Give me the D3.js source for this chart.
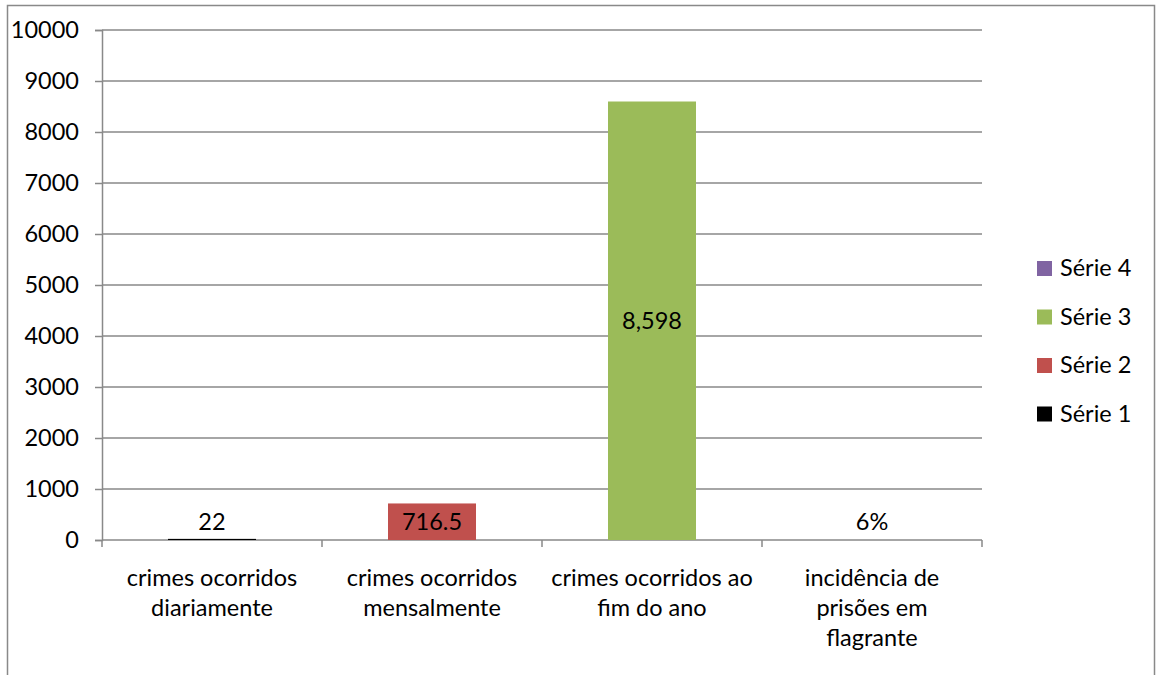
<!DOCTYPE html>
<html><head><meta charset="utf-8">
<script src="https://cdn.jsdelivr.net/npm/d3@7"></script>
<style>body{margin:0;background:#fff}svg{display:block}</style>
</head><body>
<svg id="c" width="1160" height="675"></svg>
<script>
const categories = [["crimes ocorridos","diariamente"],["crimes ocorridos","mensalmente"],["crimes ocorridos ao","fim do ano"],["incidência de","prisões em","flagrante"]];
const seriesNames = ["Série 1","Série 2","Série 3","Série 4"];
const seriesColors = ["#000000","#c0504d","#9bbb59","#8064a2"];
const values = [22, 716.5, 8598, 0.06];
const valueLabels = ["22","716.5","8,598","6%"];
const yTicks = [0,1000,2000,3000,4000,5000,6000,7000,8000,9000,10000];

const svg = d3.select("#c");
const font = "Lato, 'Open Sans', sans-serif";
const fs = 23.5;
svg.append("rect").attr("x",7.5).attr("y",5.5).attr("width",1147).attr("height",680)
  .attr("fill","#fff").attr("stroke","#898989").attr("stroke-width",1.5);

const x = d3.scaleBand().domain(d3.range(4)).range([102,982]).paddingInner(0).paddingOuter(0);
const y = d3.scaleLinear().domain([0,10000]).range([540,30]);
const grid = "#898989";

// gridlines
svg.append("g").selectAll("line").data(yTicks.filter(d=>d>0)).join("line")
  .attr("x1",102).attr("x2",982).attr("y1",d=>y(d)).attr("y2",d=>y(d))
  .attr("stroke",grid).attr("stroke-width",1.5);

// y axis
const ya = svg.append("g").attr("transform","translate(102,0)")
  .call(d3.axisLeft(y).tickValues(yTicks).tickSize(7).tickPadding(16).tickFormat(d3.format("d")));
ya.select(".domain").attr("stroke",grid).attr("stroke-width",1.5);
ya.selectAll(".tick line").attr("stroke",grid).attr("stroke-width",1.5);
ya.selectAll("text").attr("font-family",font).attr("font-size",fs).attr("fill","#000");

// x axis
const xa = svg.append("g").attr("transform","translate(0,540)");
xa.append("line").attr("x1",102).attr("x2",982).attr("stroke",grid).attr("stroke-width",1.5);
const tickPos = d3.range(5).map(i=> i<4 ? x(i) : x(3)+x.bandwidth());
xa.selectAll("line.t").data(tickPos).join("line").attr("class","t")
  .attr("x1",d=>d).attr("x2",d=>d).attr("y1",0).attr("y2",7).attr("stroke",grid).attr("stroke-width",1.5);
const lab = xa.selectAll("text").data(categories).join("text")
  .attr("x",(d,i)=>x(i)+x.bandwidth()/2).attr("y",46)
  .attr("text-anchor","middle").attr("font-family",font).attr("font-size",fs).attr("fill","#000");
lab.selectAll("tspan").data(d=>d).join("tspan")
  .attr("x",function(){return this.parentNode.getAttribute("x");})
  .attr("dy",(d,i)=>i===0?0:30).text(d=>d);

// bars
const bw = x.bandwidth()*0.4;
svg.append("g").selectAll("rect").data(values).join("rect")
  .attr("x",(d,i)=>x(i)+(x.bandwidth()-bw)/2).attr("width",bw)
  .attr("y",d=>y(d)).attr("height",d=>Math.max(y(0)-y(d),0))
  .attr("fill",(d,i)=>seriesColors[i]);

// data labels
svg.append("g").selectAll("text").data(values).join("text")
  .attr("x",(d,i)=>x(i)+x.bandwidth()/2)
  .attr("y",d=> (y(0)-y(d)) > 20 ? (y(d)+y(0))/2 : 522)
  .attr("dy","0.35em").attr("text-anchor","middle")
  .attr("font-family",font).attr("font-size",fs).attr("fill","#000")
  .text((d,i)=>valueLabels[i]);

// legend
const leg = svg.append("g").selectAll("g").data(d3.range(4).reverse()).join("g")
  .attr("transform",(d,j)=>`translate(1037,${268+j*48.5})`);
leg.append("rect").attr("x",0).attr("y",-7).attr("width",15).attr("height",15).attr("fill",d=>seriesColors[d]);
leg.append("text").attr("x",23).attr("y",0).attr("dy","0.35em")
  .attr("font-family",font).attr("font-size",fs).attr("fill","#000").text(d=>seriesNames[d]);
</script>
</body></html>
